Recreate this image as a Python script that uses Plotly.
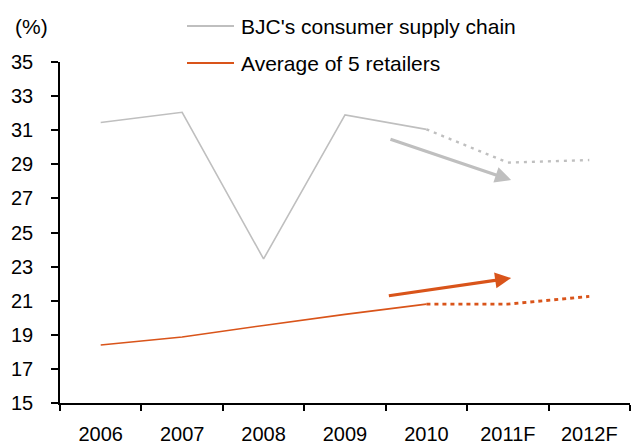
import plotly.graph_objects as go

categories = ["2006", "2007", "2008", "2009", "2010", "2011F", "2012F"]
bjc_actual = [31.45, 32.05, 23.45, 31.9, 31.05]
bjc_forecast = [31.05, 29.1, 29.25]
avg_actual = [18.4, 18.87, 19.55, 20.2, 20.8]
avg_forecast = [20.8, 20.8, 21.25]
y_ticks = [15, 17, 19, 21, 23, 25, 27, 29, 31, 33, 35]
series_names = ["BJC's consumer supply chain", "Average of 5 retailers"]

GRAY = "#BFBFBF"
ORANGE = "#D9541A"
FONT = "Liberation Sans, Arial, sans-serif"

W, H = 635, 446
L, R, T, B = 60, 5, 62, 43
PW, PH = W - L - R, H - T - B


def px(xp):
    return (xp - L) / PW


def py(yp):
    return (H - B - yp) / PH


fig = go.Figure()
fig.add_trace(go.Scatter(x=categories[:5], y=bjc_actual, mode="lines",
                         line=dict(color=GRAY, width=1.6), showlegend=False))
fig.add_trace(go.Scatter(x=categories[4:], y=bjc_forecast, mode="lines",
                         line=dict(color=GRAY, width=2.4, dash="3px,5px"),
                         showlegend=False))
fig.add_trace(go.Scatter(x=categories[:5], y=avg_actual, mode="lines",
                         line=dict(color=ORANGE, width=1.6), showlegend=False))
fig.add_trace(go.Scatter(x=categories[4:], y=avg_forecast, mode="lines",
                         line=dict(color=ORANGE, width=2.8, dash="4px,4px"),
                         showlegend=False))

# trend arrows (category index coordinates)
arrows = [
    dict(x0=3.54, y0=30.5, x1=5.04, y1=28.08, color=GRAY),
    dict(x0=3.52, y0=21.28, x1=5.04, y1=22.33, color=ORANGE),
]
for a in arrows:
    fig.add_annotation(x=a["x1"], y=a["y1"], ax=a["x0"], ay=a["y0"],
                       xref="x", yref="y", axref="x", ayref="y",
                       showarrow=True, arrowhead=2, arrowsize=1.0,
                       arrowwidth=3.2, arrowcolor=a["color"], text="")

# custom legend
for name, color, ypix in [(series_names[0], GRAY, 26), (series_names[1], ORANGE, 63)]:
    fig.add_shape(type="line", xref="paper", yref="paper",
                  x0=px(187), x1=px(234), y0=py(ypix), y1=py(ypix),
                  line=dict(color=color, width=1.8))
    fig.add_annotation(text=name, xref="paper", yref="paper",
                       x=px(239), y=py(ypix), xanchor="left", yanchor="middle",
                       showarrow=False, font=dict(size=21, color="black", family=FONT))

fig.add_annotation(text="(%)", xref="paper", yref="paper", x=px(13), y=py(26),
                   xanchor="left", yanchor="middle", showarrow=False,
                   font=dict(size=21, color="black", family=FONT))

fig.update_layout(
    width=W, height=H,
    margin=dict(l=L, r=R, t=T, b=B, autoexpand=False),
    paper_bgcolor="white", plot_bgcolor="white",
    font=dict(family=FONT, size=20, color="black"),
    showlegend=False,
    xaxis=dict(type="category", tickson="boundaries", ticks="outside",
               ticklen=6, tickcolor="black", tickwidth=1.5, showline=True,
               linecolor="black", linewidth=1.5, showgrid=False, zeroline=False,
               ticklabelstandoff=12, range=[-0.5, 6.5]),
    yaxis=dict(range=[15, 35], tickvals=y_ticks, ticks="outside", ticklen=7,
               tickcolor="black", tickwidth=1.5, showline=True,
               linecolor="black", linewidth=1.5, showgrid=False, zeroline=False,
               ticklabelstandoff=14),
)

fig.write_html("out.html")
